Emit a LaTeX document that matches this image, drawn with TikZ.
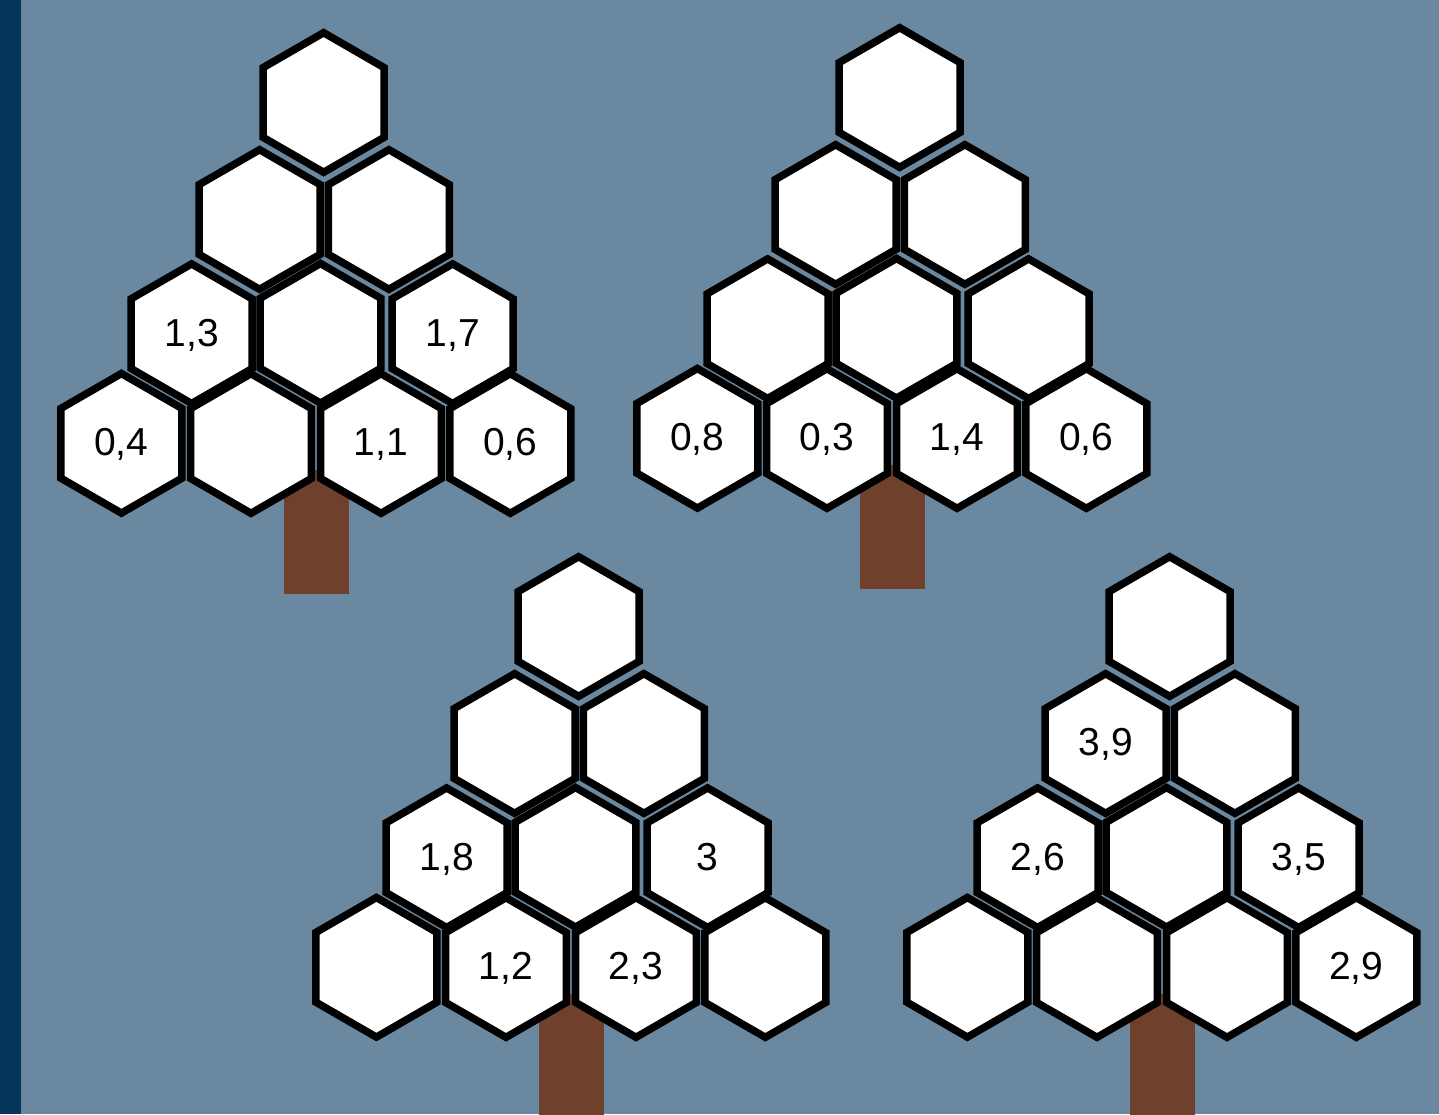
\documentclass[tikz,border=0pt]{standalone}
\usepackage{fontspec}
\setmainfont{Liberation Sans}
\usetikzlibrary{shapes.geometric}
\definecolor{bgblue}{HTML}{6A89A0}
\definecolor{stripblue}{HTML}{04365A}
\definecolor{bark}{HTML}{6F412C}
\begin{document}
\begin{tikzpicture}[x=1pt,y=-1pt,
  hexcell/.style={regular polygon, regular polygon sides=6, shape border rotate=30,
    minimum size=139.6pt, inner sep=0pt, outer sep=0pt, draw=black, line width=7.5pt,
    line join=miter, fill=white, font=\fontsize{39}{40}\selectfont,
    text height=24.6pt, text depth=0pt},
  trunk/.style={fill=bark}]
\useasboundingbox (0,0) rectangle (1439,1114);
\clip (0,0) rectangle (1439,1114);
\fill[bgblue] (0,0) rectangle (1439,1114);
\fill[stripblue] (0,0) rectangle (21,1114);

% Tree 1
\begin{scope}
\fill[trunk] (284,470) rectangle (349,593.5);
\node[hexcell] (a1) at (323.6,102.5) {};
\node[hexcell] (a2) at (259.6,219.5) {};
\node[hexcell] (a3) at (388.9,219.5) {};
\node[hexcell] (a4) at (191.6,333.7) {1,3};
\node[hexcell] (a5) at (320.5,333.3) {};
\node[hexcell] (a6) at (452.6,333.7) {1,7};
\node[hexcell] (a7) at (121.4,443.3) {0,4};
\node[hexcell] (a8) at (251,443.5) {};
\node[hexcell] (a9) at (381,443.5) {1,1};
\node[hexcell] (a10) at (510.3,443.5) {0,6};
\end{scope}

% Tree 2
\begin{scope}[shift={(576,-5)}]
\fill[trunk] (284,470) rectangle (349,593.5);
\node[hexcell] (b1) at (323.6,102.5) {};
\node[hexcell] (b2) at (259.6,219.5) {};
\node[hexcell] (b3) at (388.9,219.5) {};
\node[hexcell] (b4) at (191.6,333.7) {};
\node[hexcell] (b5) at (320.5,333.3) {};
\node[hexcell] (b6) at (452.6,333.7) {};
\node[hexcell] (b7) at (121.4,443.3) {0,8};
\node[hexcell] (b8) at (251,443.5) {0,3};
\node[hexcell] (b9) at (381,443.5) {1,4};
\node[hexcell] (b10) at (510.3,443.5) {0,6};
\end{scope}

% Tree 3
\begin{scope}[shift={(255,524)}]
\fill[trunk] (284,470) rectangle (349,593.5);
\node[hexcell] (c1) at (323.6,102.5) {};
\node[hexcell] (c2) at (259.6,219.5) {};
\node[hexcell] (c3) at (388.9,219.5) {};
\node[hexcell] (c4) at (191.6,333.7) {1,8};
\node[hexcell] (c5) at (320.5,333.3) {};
\node[hexcell] (c6) at (452.6,333.7) {3};
\node[hexcell] (c7) at (121.4,443.3) {};
\node[hexcell] (c8) at (251,443.5) {1,2};
\node[hexcell] (c9) at (381,443.5) {2,3};
\node[hexcell] (c10) at (510.3,443.5) {};
\end{scope}

% Tree 4
\begin{scope}[shift={(846,524)}]
\fill[trunk] (284,470) rectangle (349,593.5);
\node[hexcell] (d1) at (323.6,102.5) {};
\node[hexcell] (d2) at (259.6,219.5) {3,9};
\node[hexcell] (d3) at (388.9,219.5) {};
\node[hexcell] (d4) at (191.6,333.7) {2,6};
\node[hexcell] (d5) at (320.5,333.3) {};
\node[hexcell] (d6) at (452.6,333.7) {3,5};
\node[hexcell] (d7) at (121.4,443.3) {};
\node[hexcell] (d8) at (251,443.5) {};
\node[hexcell] (d9) at (381,443.5) {};
\node[hexcell] (d10) at (510.3,443.5) {2,9};
\end{scope}
\end{tikzpicture}
\end{document}
